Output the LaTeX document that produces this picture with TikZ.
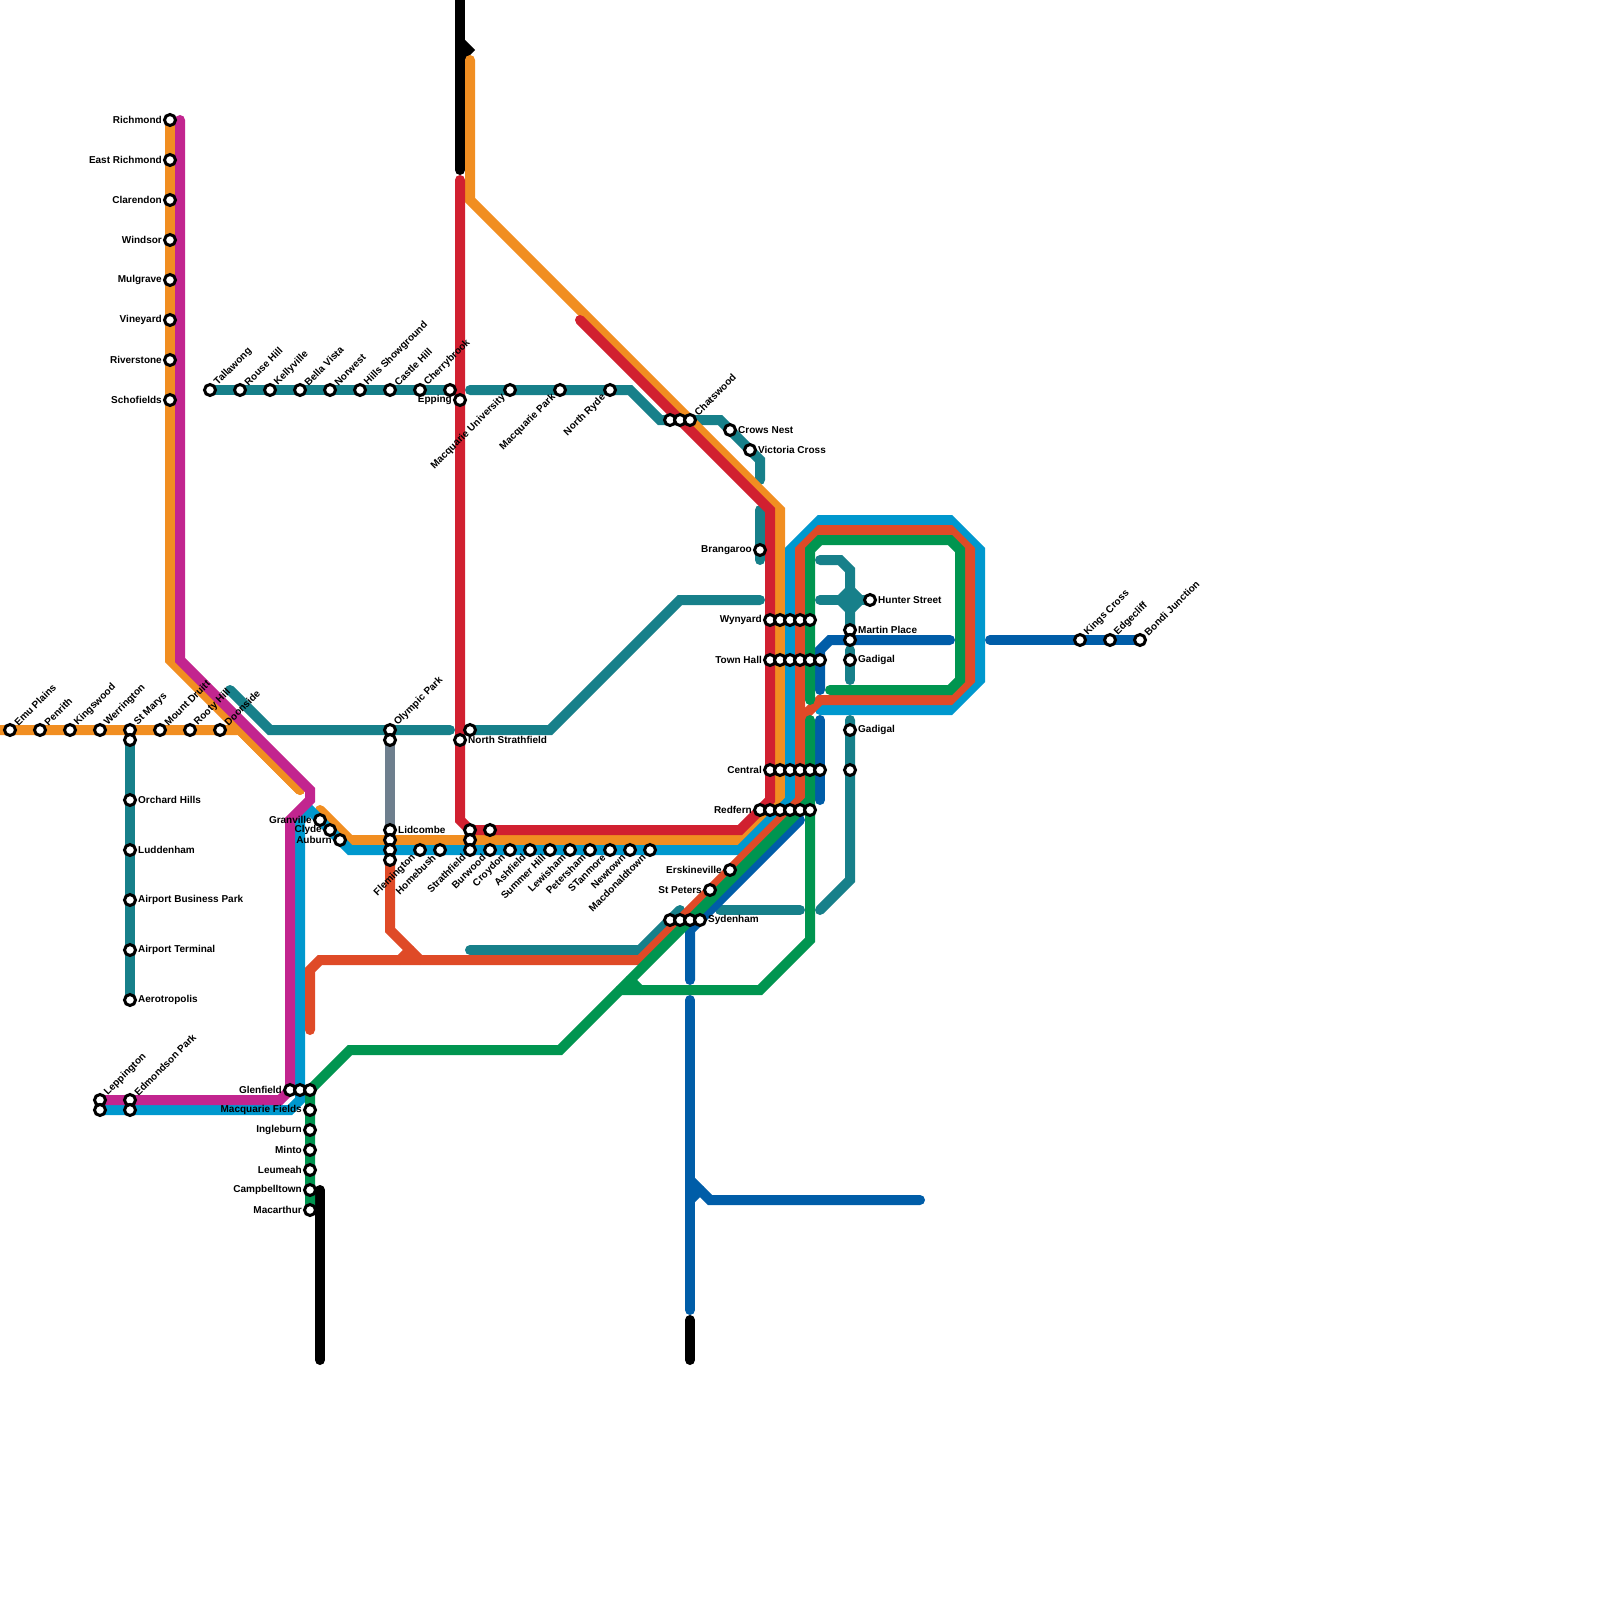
\documentclass[tikz,border=0pt]{standalone}
\usepackage{fontspec}
\setmainfont{Liberation Sans}
\usetikzlibrary{positioning}
\definecolor{orangeline}{HTML}{F18E21}
\definecolor{magentaline}{HTML}{C2258F}
\definecolor{cyanline}{HTML}{0098CE}
\definecolor{redline}{HTML}{D12030}
\definecolor{rustline}{HTML}{DF4A27}
\definecolor{greenline}{HTML}{009550}
\definecolor{navyline}{HTML}{005DA8}
\definecolor{tealline}{HTML}{17808A}
\definecolor{greyline}{HTML}{6E7F8E}

\begin{document}
\begin{tikzpicture}[x=10pt,y=-10pt,font=\bfseries\fontsize{10}{12}\selectfont,
  route/.style={line width=10pt,line cap=round,line join=miter,miter limit=10},
  stn/.style={circle,draw=black,fill=white,line width=3pt,minimum size=11pt,inner sep=0pt},
  lbl/.style={inner sep=0pt,xshift=1pt},
  lbll/.style={inner sep=0pt,xshift=-1pt},
  lblup/.style={inner sep=0pt,anchor=west,yshift=6pt,xshift=-1pt,rotate=45},
  lbldn/.style={inner sep=0pt,anchor=east,yshift=-6pt,xshift=1pt,rotate=45}]
\useasboundingbox (0,0) rectangle (160,160);
% teal lines
\draw[route,tealline] (21,39)--(45,39);
\draw[route,tealline] (47,39)--(63,39)--(66,42)--(72,42)--(76,46)--(76,48);
\draw[route,tealline] (76,51)--(76,56);
\draw[route,tealline] (23,69)--(27,73)--(45,73);
\draw[route,tealline] (47,73)--(55,73)--(68,60)--(76,60);
\draw[route,tealline] (13,74)--(13,100);
\draw[route,tealline] (82,56)--(84,56)--(85,57)--(85,63);
\draw[route,tealline] (82,60)--(87,60);
\fill[tealline] (85,58.3)--(86.7,60)--(85,61.7)--(83.3,60)--cycle;
\draw[route,tealline] (85,65)--(85,68);
\draw[route,tealline] (85,72)--(85,88)--(82,91);
\draw[route,tealline] (72,91)--(80,91);
\draw[route,tealline] (47,95)--(64,95)--(68,91);
\draw[route,greyline] (39,74)--(39,83);
% black ends
\draw[route,black] (46,0)--(46,17);
\draw[route,black] (46,4.2)--(46.8,5)--(46,5.8);
\draw[route,black] (32,119)--(32,136);
\draw[route,black] (69,132)--(69,136);
% navy
\draw[route,navyline] (82,69)--(82,65)--(83,64)--(95,64);
\draw[route,navyline] (99,64)--(114,64);
\draw[route,navyline] (82,72)--(82,80);
\draw[route,navyline] (80,82)--(69,93)--(69,98);
\draw[route,navyline] (69,100)--(69,131);
\draw[route,navyline] (69,118)--(71,120)--(92,120);
\draw[route,navyline] (70,119)--(69,120);
% orange, cyan, magenta, red
\draw[route,orangeline] (0,73)--(24,73)--(30,79);
\draw[route,orangeline] (17,12)--(17,66)--(30,79);
\draw[route,orangeline] (32,81)--(35,84)--(74,84)--(78,80)--(78,51)--(47,20)--(47,6);
\draw[route,cyanline] (10,111)--(29,111)--(30,110)--(30,82)--(31,81)--(35,85)--(74,85)--(79,80)--(79,55)--(82,52)--(95,52)--(98,55)--(98,68)--(95,71)--(82,71);
\draw[route,magentaline] (18,12)--(18,66)--(31,79)--(31,80)--(29,82)--(29,109)--(28,110)--(10,110);
\draw[route,redline] (46,18)--(46,82)--(47,83)--(74,83)--(77,80)--(77,51)--(58,32);
% rust
\draw[route,rustline] (31,103)--(31,97)--(32,96)--(64,96)--(80,80)--(80,72)--(82,70)--(95,70)--(97,68)--(97,55)--(95,53)--(82,53)--(80,55)--(80,80);
\draw[route,rustline] (39,86)--(39,93)--(42,96);
\draw[route,rustline] (41,95)--(40,96);
% green
\draw[route,greenline] (81,70)--(81,55)--(82,54)--(95,54)--(96,55)--(96,68)--(95,69)--(83,69);
\draw[route,greenline] (81,72)--(81,94)--(76,99)--(62,99);
\draw[route,greenline] (81,80)--(56,105)--(35,105)--(31,109)--(31,121);
\draw[route,greenline] (63,98)--(64,99);
% stations, north west
\node[stn,label={[lbll]left:Richmond}] (richmond) at (17,12) {};
\node[stn,label={[lbll]left:East Richmond}] (eastrichmond) at (17,16) {};
\node[stn,label={[lbll]left:Clarendon}] (clarendon) at (17,20) {};
\node[stn,label={[lbll]left:Windsor}] (windsor) at (17,24) {};
\node[stn,label={[lbll]left:Mulgrave}] (mulgrave) at (17,28) {};
\node[stn,label={[lbll]left:Vineyard}] (vineyard) at (17,32) {};
\node[stn,label={[lbll]left:Riverstone}] (riverstone) at (17,36) {};
\node[stn,label={[lbll]left:Schofields}] (schofields) at (17,40) {};
\node[stn,label={[lblup]right:Tallawong}] (tallawong) at (21,39) {};
\node[stn,label={[lblup]right:Rouse Hill}] (rousehill) at (24,39) {};
\node[stn,label={[lblup]right:Kellyville}] (kellyville) at (27,39) {};
\node[stn,label={[lblup]right:Bella Vista}] (bellavista) at (30,39) {};
\node[stn,label={[lblup]right:Norwest}] (norwest) at (33,39) {};
\node[stn,label={[lblup]right:Hills Showground}] (hills) at (36,39) {};
\node[stn,label={[lblup]right:Castle Hill}] (castlehill) at (39,39) {};
\node[stn,label={[lblup]right:Cherrybrook}] (cherrybrook) at (42,39) {};
\node[stn] (cherryb) at (45,39) {};
\node[stn,label={[lbll]left:Epping}] (epping) at (46,40) {};
\node[stn,label={[lbldn]left:Macquarie University}] (macuni) at (51,39) {};
\node[stn,label={[lbldn]left:Macquarie Park}] (macpark) at (56,39) {};
\node[stn,label={[lbldn]left:North Ryde}] (northryde) at (61,39) {};
\node[stn] (chatsa) at (67,42) {};
\node[stn] (chatsb) at (68,42) {};
\node[stn,label={[lblup]right:Chatswood}] (chatswood) at (69,42) {};
\node[stn,label={[lbl]right:Crows Nest}] (crowsnest) at (73,43) {};
\node[stn,label={[lbl]right:Victoria Cross}] (viccross) at (75,45) {};
\node[stn,label={[lbll]left:Brangaroo}] (brangaroo) at (76,55) {};
% stations, west
\node[stn,label={[lblup]right:Emu Plains}] (emuplains) at (1,73) {};
\node[stn,label={[lblup]right:Penrith}] (penrith) at (4,73) {};
\node[stn,label={[lblup]right:Kingswood}] (kingswood) at (7,73) {};
\node[stn,label={[lblup]right:Werrington}] (werrington) at (10,73) {};
\node[stn,label={[lblup]right:St Marys}] (stmarys) at (13,73) {};
\node[stn] (stmarysb) at (13,74) {};
\node[stn,label={[lblup]right:Mount Druitt}] (mountdruitt) at (16,73) {};
\node[stn,label={[lblup]right:Rooty Hill}] (rootyhill) at (19,73) {};
\node[stn,label={[lblup]right:Doonside}] (doonside) at (22,73) {};
\node[stn,label={[lbl]right:Orchard Hills}] (orchard) at (13,80) {};
\node[stn,label={[lbl]right:Luddenham}] (luddenham) at (13,85) {};
\node[stn,label={[lbl]right:Airport Business Park}] (airportbp) at (13,90) {};
\node[stn,label={[lbl]right:Airport Terminal}] (airportt) at (13,95) {};
\node[stn,label={[lbl]right:Aerotropolis}] (aerotropolis) at (13,100) {};
\node[stn,label={[lblup]right:Leppington}] (leppington) at (10,110) {};
\node[stn] (leppingtonb) at (10,111) {};
\node[stn,label={[lblup]right:Edmondson Park}] (edmondson) at (13,110) {};
\node[stn] (edmondsonb) at (13,111) {};
\node[stn,label={[lbll]left:Glenfield}] (glenfield) at (29,109) {};
\node[stn] (glenfieldb) at (30,109) {};
\node[stn] (glenfieldc) at (31,109) {};
\node[stn,label={[lbll]left:Macquarie Fields}] (macfields) at (31,111) {};
\node[stn,label={[lbll]left:Ingleburn}] (ingleburn) at (31,113) {};
\node[stn,label={[lbll]left:Minto}] (minto) at (31,115) {};
\node[stn,label={[lbll]left:Leumeah}] (leumeah) at (31,117) {};
\node[stn,label={[lbll]left:Campbelltown}] (campbelltown) at (31,119) {};
\node[stn,label={[lbll]left:Macarthur}] (macarthur) at (31,121) {};
% stations, inner west
\node[stn,label={[lbll]left:Granville}] (granville) at (32,82) {};
\node[stn,label={[lbll]left:Clyde}] (clyde) at (33,83) {};
\node[stn,label={[lbll]left:Auburn}] (auburn) at (34,84) {};
\node[stn,label={[lblup]right:Olympic Park}] (olympicpark) at (39,73) {};
\node[stn] (olympicb) at (39,74) {};
\node[stn,label={[lbl]right:Lidcombe}] (lidcombe) at (39,83) {};
\node[stn] (lidcombeb) at (39,84) {};
\node[stn] (lidcombec) at (39,85) {};
\node[stn] (lidcombed) at (39,86) {};
\node[stn] (nstrathb) at (47,73) {};
\node[stn,label={[lbl]right:North Strathfield}] (nstrathfield) at (46,74) {};
\node[stn] (strathb) at (47,83) {};
\node[stn] (strathc) at (47,84) {};
\node[stn] (burwoodb) at (49,83) {};
\node[stn,label={[lbldn]left:Flemington}] (flemington) at (42,85) {};
\node[stn,label={[lbldn]left:Homebush}] (homebush) at (44,85) {};
\node[stn,label={[lbldn]left:Strathfield}] (strathfield) at (47,85) {};
\node[stn,label={[lbldn]left:Burwood}] (burwood) at (49,85) {};
\node[stn,label={[lbldn]left:Croydon}] (croydon) at (51,85) {};
\node[stn,label={[lbldn]left:Ashfield}] (ashfield) at (53,85) {};
\node[stn,label={[lbldn]left:Summer Hill}] (summerhill) at (55,85) {};
\node[stn,label={[lbldn]left:Lewisham}] (lewisham) at (57,85) {};
\node[stn,label={[lbldn]left:Petersham}] (petersham) at (59,85) {};
\node[stn,label={[lbldn]left:STanmore}] (stanmore) at (61,85) {};
\node[stn,label={[lbldn]left:Newtown}] (newtown) at (63,85) {};
\node[stn,label={[lbldn]left:Macdonaldtown}] (macdonaldtown) at (65,85) {};
\node[stn,label={[lbll]left:Erskineville}] (erskineville) at (73,87) {};
\node[stn,label={[lbll]left:St Peters}] (stpeters) at (71,89) {};
\node[stn] (sydenhama) at (67,92) {};
\node[stn] (sydenhamb) at (68,92) {};
\node[stn] (sydenhamc) at (69,92) {};
\node[stn,label={[lbl]right:Sydenham}] (sydenham) at (70,92) {};
% stations, city
\node[stn,label={[lbll]left:Wynyard}] (wynyard) at (77,62) {};
\node[stn] (wynyardb) at (78,62) {};
\node[stn] (wynyardc) at (79,62) {};
\node[stn] (wynyardd) at (80,62) {};
\node[stn] (wynyarde) at (81,62) {};
\node[stn,label={[lbll]left:Town Hall}] (townhall) at (77,66) {};
\node[stn] (townhallb) at (78,66) {};
\node[stn] (townhallc) at (79,66) {};
\node[stn] (townhalld) at (80,66) {};
\node[stn] (townhalle) at (81,66) {};
\node[stn] (townhallf) at (82,66) {};
\node[stn,label={[lbll]left:Central}] (central) at (77,77) {};
\node[stn] (centralb) at (78,77) {};
\node[stn] (centralc) at (79,77) {};
\node[stn] (centrald) at (80,77) {};
\node[stn] (centrale) at (81,77) {};
\node[stn] (centralf) at (82,77) {};
\node[stn] (centralg) at (85,77) {};
\node[stn,label={[lbll]left:Redfern}] (redfern) at (76,81) {};
\node[stn] (redfernb) at (77,81) {};
\node[stn] (redfernc) at (78,81) {};
\node[stn] (redfernd) at (79,81) {};
\node[stn] (redferne) at (80,81) {};
\node[stn] (redfernf) at (81,81) {};
\node[stn,label={[lbl]right:Hunter Street}] (hunter) at (87,60) {};
\node[stn,label={[lbl]right:Martin Place}] (martin) at (85,63) {};
\node[stn] (martinb) at (85,64) {};
\node[stn,label={[lbl]right:Gadigal}] (gadigal) at (85,66) {};
\node[stn,label={[lbl]right:Gadigal}] (gadigalb) at (85,73) {};
\node[stn,label={[lblup]right:Kings Cross}] (kingscross) at (108,64) {};
\node[stn,label={[lblup]right:Edgecliff}] (edgecliff) at (111,64) {};
\node[stn,label={[lblup]right:Bondi Junction}] (bondi) at (114,64) {};
\end{tikzpicture}
\end{document}
